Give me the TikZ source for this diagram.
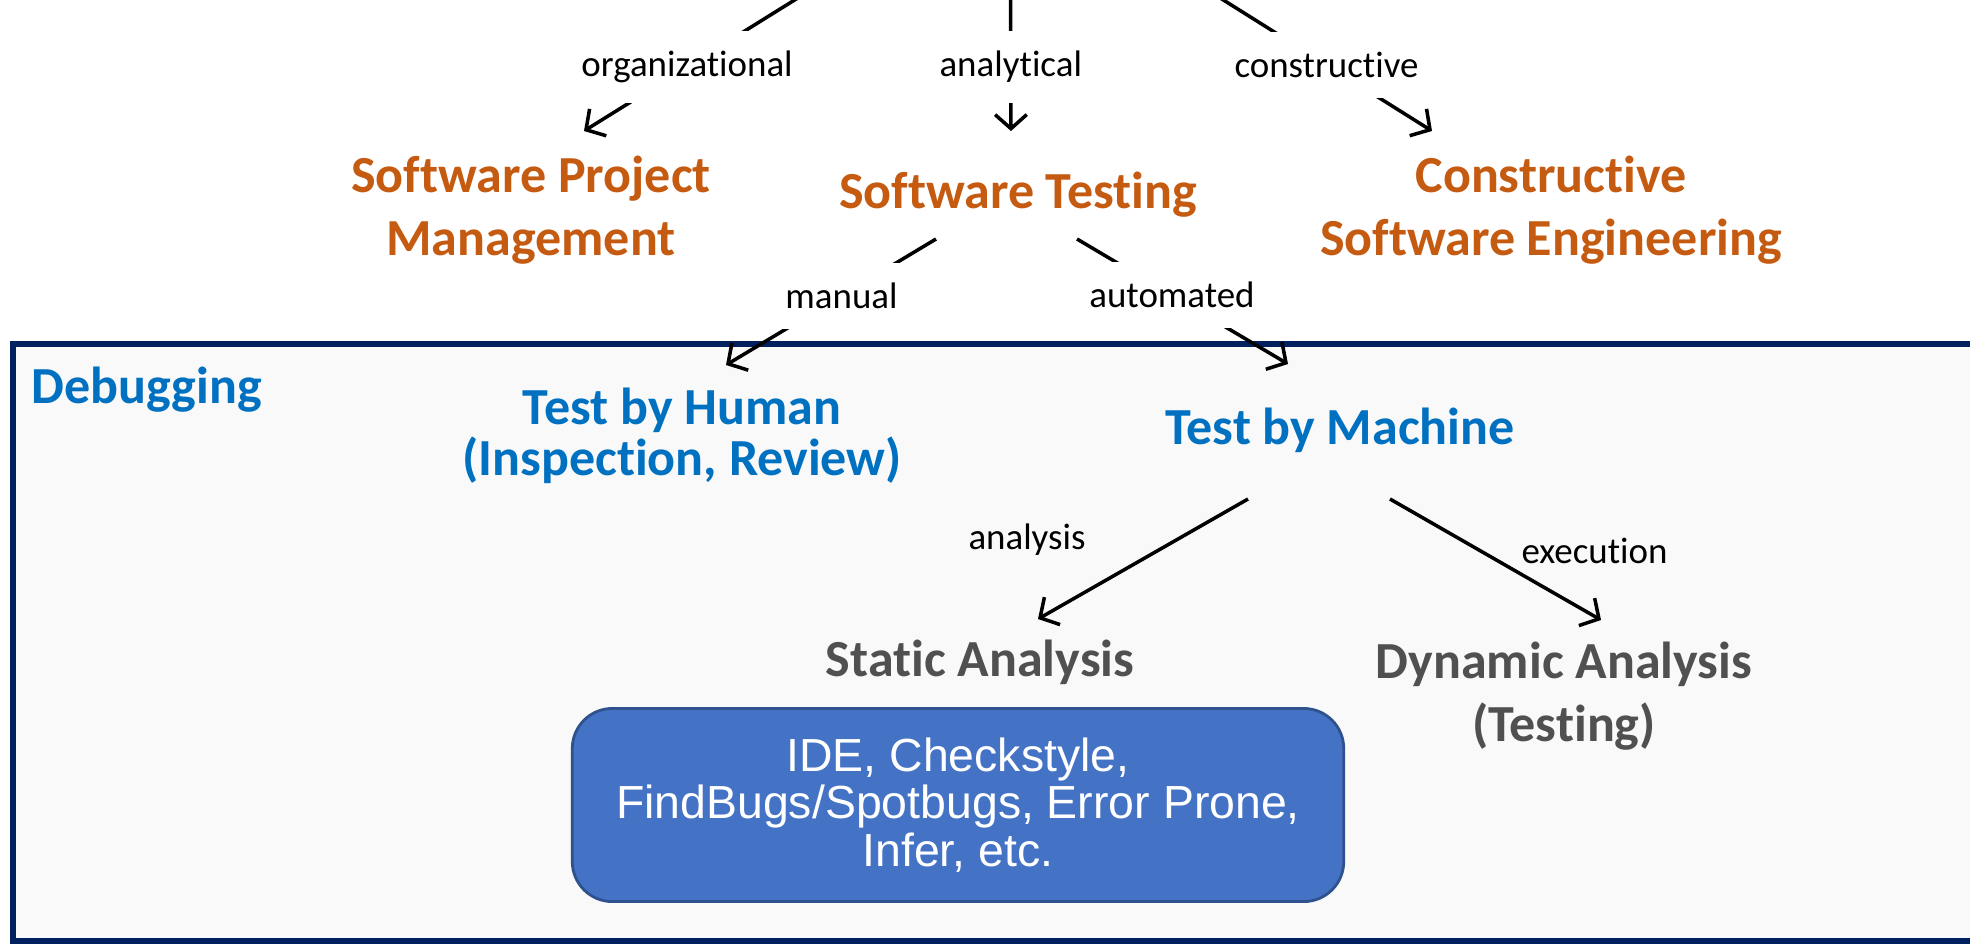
\documentclass[tikz,border=0pt]{standalone}
\usepackage{fontspec}
\setmainfont{Carlito}[Ligatures=NoCommon]
\newfontfamily\toolfont{Liberation Sans}
\usetikzlibrary{arrows.meta,positioning}
\definecolor{qaorange}{HTML}{C55A11}
\definecolor{qablue}{HTML}{0070C0}
\definecolor{qagrey}{HTML}{505050}
\definecolor{framenavy}{HTML}{002060}
\definecolor{framefill}{HTML}{F9F9F9}
\definecolor{toolfill}{HTML}{4472C4}
\definecolor{tooldraw}{HTML}{2F528F}

\begin{document}
\begin{tikzpicture}[
    x=0.01cm, y=-0.01cm,
    title/.style={font=\bfseries\fontsize{14.8}{17.8}\selectfont, align=center, inner sep=0pt},
    lbl/.style={font=\fontsize{10.5}{12}\selectfont, inner sep=0pt},
    gap/.style={lbl, fill=white, inner xsep=3pt, inner ysep=0.2cm},
    arr/.style={-{Straight Barb[length=4pt,width=9pt]}, line width=1pt},
    toolbox/.style={rectangle, rounded corners=0.4cm, fill=toolfill, draw=tooldraw, line width=0.8pt,
        minimum width=7.71cm, minimum height=1.93cm, text=white, align=center,
        font=\toolfont\fontsize{13.2}{13.6}\selectfont}
]
    \useasboundingbox (0,0) rectangle (1970,944);
    \clip (0,0) rectangle (1970,944);

    \draw[line width=1.7pt, draw=framenavy, fill=framefill] (13,344) rectangle (2010,941);

    \coordinate (root) at (1010,-134);
    \node[title, text=qaorange] (spm) at (531,210) {Software Project\\Management};
    \node[title, text=qaorange] (st) at (1018,195) {Software Testing};
    \node[title, text=qaorange] (cse) at (1551,210) {Constructive\\Software Engineering};
    \node[title, text=qablue, anchor=west] (debug) at (31,390) {Debugging};
    \node[title, text=qablue, font=\bfseries\fontsize{14.8}{14.6}\selectfont] (thm) at (682,436) {Test by Human\\(Inspection, Review)};
    \node[title, text=qablue] (tbm) at (1340,430) {Test by Machine};
    \node[title, text=qagrey] (sa) at (980,662) {Static Analysis};
    \node[title, text=qagrey] (da) at (1564,696) {Dynamic Analysis\\(Testing)};
    \node[toolbox] (tools) at (958,805) {IDE, Checkstyle,\\FindBugs/Spotbugs, Error Prone,\\Infer, etc.};

    \draw[arr] (root) -- node[gap, pos=.758] {organizational} ([shift={(53,-79)}]spm.center);
    \draw[arr] (root) -- node[gap, pos=.758] {analytical} ([shift={(-7,-64)}]st.center);
    \draw[arr] (root) -- node[gap, pos=.75] {constructive} ([shift={(-119,-79)}]cse.center);
    \draw[arr] ([shift={(-82,44)}]st.center) -- node[gap, pos=.45] {manual} ([shift={(44,-71)}]thm.center);
    \draw[arr] ([shift={(59,44)}]st.center) -- node[gap, pos=.45] {automated} ([shift={(-52,-66)}]tbm.center);
    \draw[arr] ([shift={(-92,69)}]tbm.center) -- node[lbl, pos=.5, shift={(-116,-19)}] {analysis} ([shift={(58,-43)}]sa.center);
    \draw[arr] ([shift={(50,69)}]tbm.center) -- node[lbl, pos=.5, shift={(99,-9)}] {execution} ([shift={(37,-76)}]da.center);
\end{tikzpicture}
\end{document}
